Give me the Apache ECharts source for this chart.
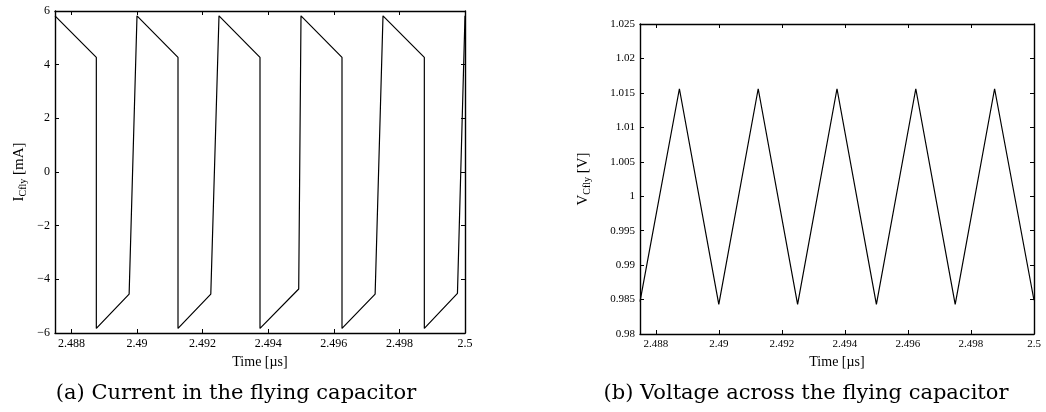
<!DOCTYPE html>
<html>
<head>
<meta charset="utf-8">
<script src="https://cdn.jsdelivr.net/npm/echarts@6/dist/echarts.min.js"></script>
<style>
html,body{margin:0;padding:0;background:#fff;}
#c{width:1046px;height:412px;}
</style>
</head>
<body>
<div id="c"></div>
<script>
// ---- data ----
var timeTicks = [2.488, 2.49, 2.492, 2.494, 2.496, 2.498, 2.5];
var currentTicks = [-6, -4, -2, 0, 2, 4, 6];
var voltageTicks = [0.98, 0.985, 0.99, 0.995, 1, 1.005, 1.01, 1.015, 1.02, 1.025];

var currentTime = [2.4875, 2.48876, 2.48876, 2.48976, 2.49, 2.49125, 2.49125, 2.49225, 2.4925,
                   2.49375, 2.49375, 2.49493, 2.495, 2.49625, 2.49625, 2.49726, 2.4975,
                   2.49876, 2.49876, 2.49977, 2.5];
var currentValue = [5.82, 4.27, -5.83, -4.55, 5.82, 4.27, -5.83, -4.55, 5.82,
                    4.27, -5.83, -4.36, 5.82, 4.27, -5.83, -4.55, 5.82,
                    4.27, -5.83, -4.52, 5.82];

var voltageTime = [2.4875, 2.48875, 2.49, 2.49125, 2.4925, 2.49375, 2.495, 2.49625, 2.4975, 2.49875, 2.5];
var voltageValue = [0.9847, 1.0156, 0.9843, 1.0156, 0.9843, 1.0156, 0.9843, 1.0156, 0.9843, 1.0156, 0.9849];

var captionA = '(a) Current in the flying capacitor';
var captionB = '(b) Voltage across the flying capacitor';

// ---- chart ----
var SERIF = '"Liberation Serif", "Times New Roman", serif';
function fmt(v){ return String(parseFloat(v.toFixed(4))).replace('-', '\u2212'); }
function pairs(xs, ys){ return xs.map(function(x,i){ return [x, ys[i]]; }); }

function xAx(grid, fs, pos){
  var bottom = pos === 'bottom';
  return {
    type:'value', gridIndex:grid, position:pos, min:2.4875, max:2.5,
    axisLine:{show:true, onZero:false, lineStyle:{color:'#000', width:1.4}},
    axisTick:{show:true, inside:true, length:4, customValues:timeTicks, lineStyle:{color:'#000', width:1}},
    axisLabel:{show:bottom, customValues:timeTicks, formatter:fmt, fontFamily:SERIF, fontSize:fs, color:'#000', margin:5},
    splitLine:{show:false},
    name: bottom ? 'Time [\u00b5s]' : '', nameLocation:'middle', nameGap:19,
    nameTextStyle:{fontFamily:SERIF, fontSize:14, color:'#000'}
  };
}
function yAx(grid, fs, pos, mn, mx, ticks, nm, gap){
  var left = pos === 'left';
  return {
    type:'value', gridIndex:grid, position:pos, min:mn, max:mx,
    axisLine:{show:true, onZero:false, lineStyle:{color:'#000', width:1.4}},
    axisTick:{show:true, inside:true, length:4, customValues:ticks, lineStyle:{color:'#000', width:1}},
    axisLabel:{show:left, customValues:ticks, formatter:fmt, fontFamily:SERIF, fontSize:fs, color:'#000', margin:5},
    splitLine:{show:false},
    name: left ? nm : '', nameLocation:'middle', nameGap:gap, nameRotate:90,
    nameTextStyle:{
      rich:{
        m:{fontFamily:SERIF, fontSize:15, color:'#000', lineHeight:18, verticalAlign:'middle'},
        s:{fontFamily:SERIF, fontSize:10, color:'#000', lineHeight:18, verticalAlign:'bottom'}
      }
    }
  };
}

var chart = echarts.init(document.getElementById('c'), null, {renderer:'canvas'});
chart.setOption({
  animation:false,
  backgroundColor:'#fff',
  grid:[
    {left:55, top:11, width:410, height:322},
    {left:640, top:24, width:394, height:310}
  ],
  xAxis:[ xAx(0,12,'bottom'), xAx(0,12,'top'), xAx(1,11,'bottom'), xAx(1,11,'top') ],
  yAxis:[
    yAx(0,12,'left',-6,6,currentTicks,'{m|I}{s|Cfly}{m| [mA]}',27),
    yAx(0,12,'right',-6,6,currentTicks,'',0),
    yAx(1,11,'left',0.98,1.025,voltageTicks,'{m|V}{s|Cfly}{m| [V]}',48),
    yAx(1,11,'right',0.98,1.025,voltageTicks,'',0)
  ],
  series:[
    {type:'line', xAxisIndex:0, yAxisIndex:0, data:pairs(currentTime,currentValue), showSymbol:false,
     lineStyle:{color:'#000', width:1.2}, itemStyle:{color:'#000'}},
    {type:'line', xAxisIndex:2, yAxisIndex:2, data:pairs(voltageTime,voltageValue), showSymbol:false,
     lineStyle:{color:'#000', width:1.2}, itemStyle:{color:'#000'}}
  ],
  graphic:[
    {type:'text', x:236, y:394, style:{text:captionA, fontFamily:'"DejaVu Serif", serif', fontSize:21, fill:'#000', align:'center', verticalAlign:'middle'}},
    {type:'text', x:806, y:394, style:{text:captionB, fontFamily:'"DejaVu Serif", serif', fontSize:21, fill:'#000', align:'center', verticalAlign:'middle'}}
  ]
});
</script>
</body>
</html>
